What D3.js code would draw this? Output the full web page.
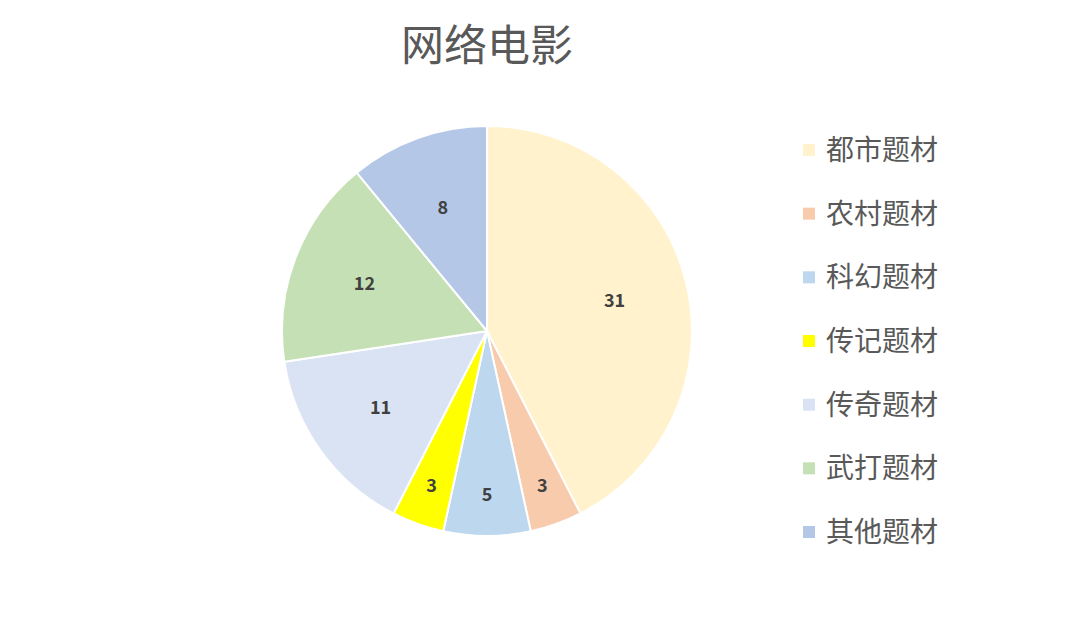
<!DOCTYPE html>
<html>
<head>
<meta charset="utf-8">
<script src="https://cdn.jsdelivr.net/npm/d3@7"></script>
<style>
  body { margin: 0; background: #fff; }
  text { font-family: "Noto Sans CJK SC", "Noto Sans", sans-serif; }
</style>
</head>
<body>
<div id="chart"></div>
<script>
// chart data
var categories = ["都市题材", "农村题材", "科幻题材", "传记题材", "传奇题材", "武打题材", "其他题材"];
var values = [31, 3, 5, 3, 11, 12, 8];
var colors = ["#FFF2CC", "#F8CBAD", "#BDD7EE", "#FFFF00", "#DAE3F3", "#C5E0B4", "#B4C7E7"];
var title = "网络电影";

var width = 1080, height = 620;
var cx = 487, cy = 331, rad = 205;

var svg = d3.select("#chart").append("svg")
    .attr("width", width)
    .attr("height", height);

svg.append("text")
    .attr("x", cx).attr("y", 61)
    .attr("text-anchor", "middle")
    .style("font-size", "43px")
    .style("fill", "#595959")
    .text(title);

var data = categories.map(function(c, i) { return {name: c, val: values[i], color: colors[i]}; });

var pie = d3.pie()
    .sort(null)
    .value(function(d) { return d.val; });

var arc = d3.arc().innerRadius(0).outerRadius(rad);

var g = svg.append("g")
    .attr("transform", "translate(" + cx + "," + cy + ")");

var slices = g.selectAll(".slice")
    .data(pie(data))
    .enter().append("g")
    .attr("class", "slice");

slices.append("path")
    .attr("d", arc)
    .style("fill", function(d) { return d.data.color; })
    .style("stroke", "#fff")
    .style("stroke-width", 2);

// small slices get pushed outward, like excel's best fit
slices.append("text")
    .attr("transform", function(d) {
        var r = d.data.val < 6 ? rad * 0.8 : rad * 0.64;
        var c = d3.arc().innerRadius(r).outerRadius(r).centroid(d);
        return "translate(" + c[0] + "," + c[1] + ")";
    })
    .attr("text-anchor", "middle")
    .attr("dy", "0.35em")
    .style("font-size", "18px")
    .style("font-weight", "bold")
    .style("fill", "#404040")
    .text(function(d) { return d.data.val; });

// legend
var legendY = d3.scalePoint()
    .domain(categories)
    .range([150, 532]);

var legend = svg.selectAll(".legend")
    .data(data)
    .enter().append("g")
    .attr("class", "legend")
    .attr("transform", function(d) { return "translate(803," + legendY(d.name) + ")"; });

legend.append("rect")
    .attr("x", 0).attr("y", -6)
    .attr("width", 12).attr("height", 12)
    .style("fill", function(d) { return d.color; });

legend.append("text")
    .attr("x", 23)
    .attr("dy", "0.36em")
    .style("font-size", "28px")
    .style("fill", "#595959")
    .text(function(d) { return d.name; });
</script>
</body>
</html>
